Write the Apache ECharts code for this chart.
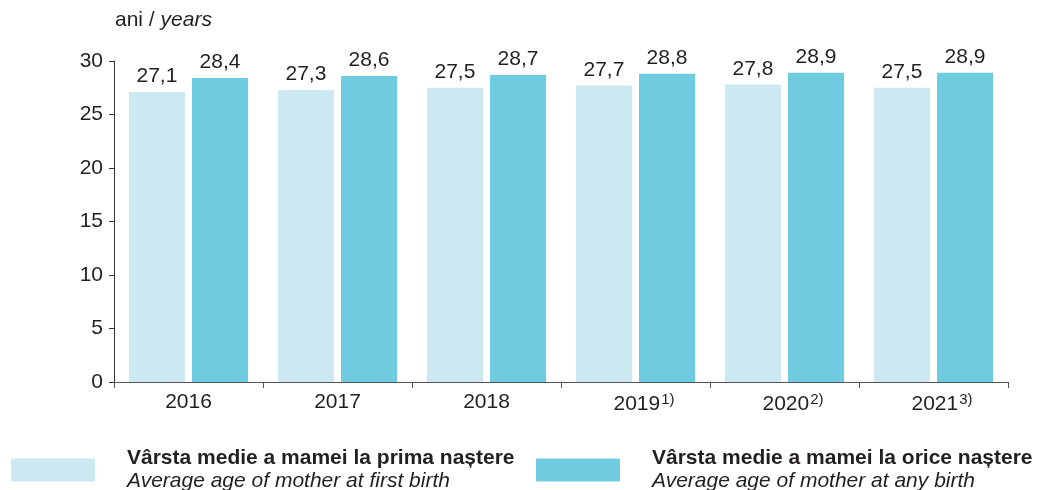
<!DOCTYPE html>
<html>
<head>
<meta charset="utf-8">
<script src="https://cdn.jsdelivr.net/npm/echarts@6/dist/echarts.min.js"></script>
<style>
  html, body { margin: 0; padding: 0; background: #fff; }
  #chart { width: 1042px; height: 490px; }
</style>
</head>
<body>
<div id="chart"></div>
<script>
var years = ["2016", "2017", "2018", "2019", "2020", "2021"];
var notes = ["", "", "", "1)", "2)", "3)"];
var firstBirth = [27.1, 27.3, 27.5, 27.7, 27.8, 27.5];
var anyBirth = [28.4, 28.6, 28.7, 28.8, 28.9, 28.9];
var seriesNames = ["Vârsta medie a mamei la prima naștere", "Vârsta medie a mamei la orice naștere"];
var seriesNamesEn = ["Average age of mother at first birth", "Average age of mother at any birth"];

var font = "'Liberation Sans', Arial, sans-serif";
var ink = "#231f20";
var chart = echarts.init(document.getElementById("chart"));

function commaLabel(p) {
  return p.value.toFixed(1).replace(".", ",");
}

function legendFor(i, left) {
  return {
    left: left,
    top: 448,
    padding: 0,
    itemWidth: 84,
    itemHeight: 23,
    icon: "rect",
    selectedMode: false,
    data: [seriesNames[i]],
    formatter: function (name) {
      return "{b|" + name + "}\n{i|" + seriesNamesEn[i] + "}";
    },
    textStyle: {
      padding: [0, 0, 0, 27],
      rich: {
        b: { fontFamily: font, fontSize: 21, fontWeight: "bold", color: ink, lineHeight: 23 },
        i: { fontFamily: font, fontSize: 21, fontStyle: "italic", color: ink, lineHeight: 23 },
      },
    },
  };
}

chart.setOption({
  animation: false,
  color: ["#cce9f2", "#6ecbe0"],
  textStyle: { fontFamily: font },
  title: {
    text: "{n|ani / }{i|years}",
    left: 115,
    top: 10,
    padding: 0,
    textStyle: {
      fontWeight: "normal",
      rich: {
        n: { fontFamily: font, fontSize: 21, color: ink, fontWeight: "normal" },
        i: { fontFamily: font, fontSize: 21, color: ink, fontStyle: "italic", fontWeight: "normal" },
      },
    },
  },
  legend: [legendFor(0, 11), legendFor(1, 536)],
  grid: { left: 114, right: 34, top: 61, bottom: 108, containLabel: false },
  xAxis: {
    type: "category",
    data: years,
    axisLine: { lineStyle: { color: "#555", width: 1 } },
    axisTick: { show: true, interval: 0, length: 6, lineStyle: { color: "#555" } },
    axisLabel: {
      interval: 0,
      hideOverlap: false,
      margin: 10,
      color: ink,
      fontSize: 21,
      formatter: function (value, idx) {
        var n = notes[idx];
        return n ? "{sp|}" + value + "{s|" + n + "}" : value;
      },
      rich: {
        sp: { width: 17 },
        s: { fontFamily: font, fontSize: 15, color: ink, padding: [0, 0, 9, 1] },
      },
    },
  },
  yAxis: {
    type: "value",
    min: 0,
    max: 30,
    interval: 5,
    axisLine: { show: true, lineStyle: { color: "#333", width: 1 } },
    axisTick: { show: true, length: 5, lineStyle: { color: "#333" } },
    splitLine: { show: false },
    axisLabel: { color: ink, fontSize: 21, margin: 11 },
  },
  series: [
    {
      name: seriesNames[0],
      type: "bar",
      data: firstBirth,
      barGap: "12.5%",
      barCategoryGap: "20%",
      label: { show: true, position: "top", distance: 5, color: ink, fontSize: 21, formatter: commaLabel },
    },
    {
      name: seriesNames[1],
      type: "bar",
      data: anyBirth,
      label: { show: true, position: "top", distance: 5, color: ink, fontSize: 21, formatter: commaLabel },
    },
  ],
});
</script>
</body>
</html>
